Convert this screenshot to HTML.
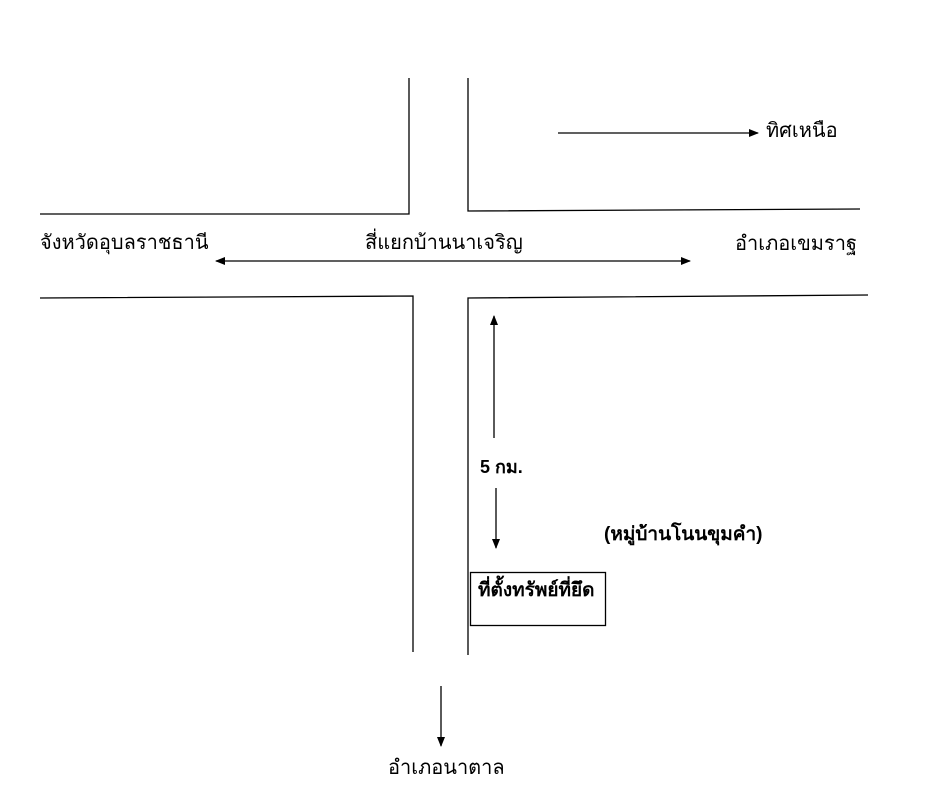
<!DOCTYPE html>
<html><head><meta charset="utf-8"><style>
body{margin:0;background:#fff;width:946px;height:800px;overflow:hidden;position:relative;font-family:"Liberation Sans","DejaVu Sans",sans-serif;font-size:20px;color:#000}
.t{position:absolute;white-space:nowrap;line-height:1}
.b{font-weight:bold;font-size:19px}
</style></head><body>
<svg width="946" height="800" style="position:absolute;left:0;top:0">
<defs><marker id="a" markerWidth="10" markerHeight="8" refX="9" refY="4" orient="auto" markerUnits="userSpaceOnUse"><path d="M0,0L10,4L0,8z" fill="#000"/></marker>
<marker id="s" markerWidth="10" markerHeight="8" refX="1" refY="4" orient="auto" markerUnits="userSpaceOnUse"><path d="M10,0L0,4L10,8z" fill="#000"/></marker></defs>
<g stroke="#000" stroke-width="1.3" fill="none">
<polyline points="40,214 409,214 409,78"/>
<polyline points="468,78 468,211 860,209"/>
<polyline points="40,298 413,296 413,652"/>
<polyline points="868,295 468,298 468,655"/>
<rect x="470.5" y="572.5" width="135" height="53"/>
<line x1="216" y1="261" x2="690" y2="261" marker-start="url(#s)" marker-end="url(#a)"/>
<line x1="558" y1="133" x2="758" y2="133" marker-end="url(#a)"/>
<line x1="494" y1="438" x2="494" y2="316" marker-end="url(#a)"/>
<line x1="496" y1="488" x2="496" y2="548" marker-end="url(#a)"/>
<line x1="441" y1="686" x2="441" y2="746" marker-end="url(#a)"/>
</g></svg>
<div class="t" style="left:40px;top:233px">จังหวัดอุบลราชธานี</div>
<div class="t" style="left:365px;top:233px">สี่แยกบ้านนาเจริญ</div>
<div class="t" style="left:735px;top:234px">อำเภอเขมราฐ</div>
<div class="t" style="left:766px;top:121px">ทิศเหนือ</div>
<div class="t b" style="left:480px;top:458px;font-size:18px">5 กม.</div>
<div class="t b" style="left:604px;top:525px">(หมู่บ้านโนนขุมคำ)</div>
<div class="t b" style="left:478px;top:581px;font-size:19px">ที่ตั้งทรัพย์ที่ยึด</div>
<div class="t" style="left:388px;top:758px">อำเภอนาตาล</div>
</body></html>
